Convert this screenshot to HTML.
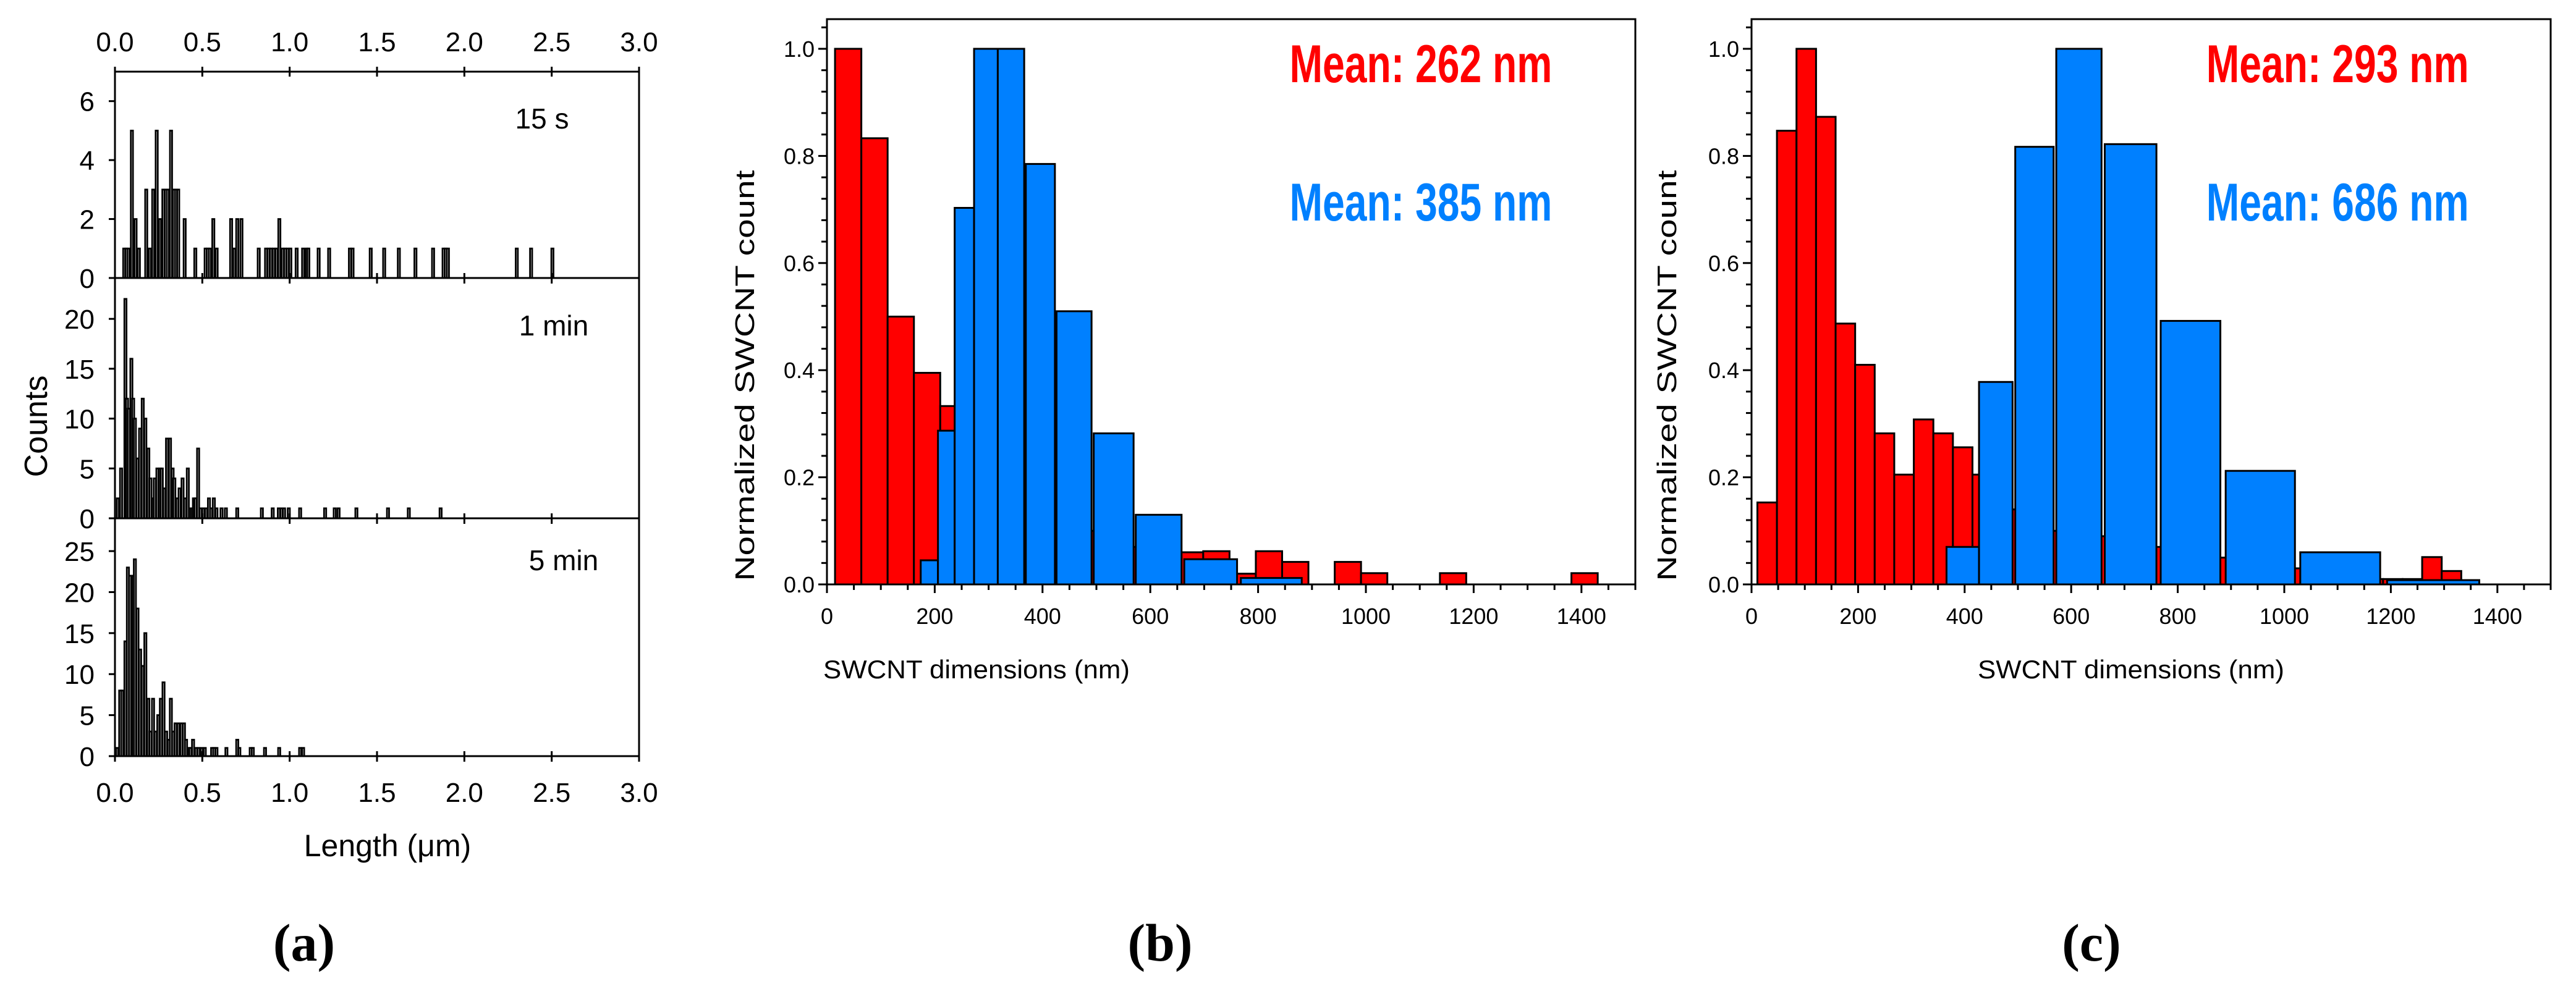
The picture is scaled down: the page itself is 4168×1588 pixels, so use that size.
<!DOCTYPE html>
<html><head><meta charset="utf-8"><style>html,body{margin:0;padding:0;background:#fff}svg{display:block}</style></head>
<body>
<svg id="fig" width="4168" height="1588" viewBox="0 0 4168 1588" xmlns="http://www.w3.org/2000/svg" font-family="'Liberation Sans', Arial, sans-serif"></svg>
<script>
// ---------- Panel (a) data ----------
const a15Len = [0.053,0.065,0.077,0.097,0.118,0.137,0.179,0.200,0.219,0.239,0.258,0.277,0.291,0.303,0.321,0.337,0.350,0.362,0.399,0.460,0.519,0.531,0.544,0.563,0.582,0.665,0.683,0.700,0.724,0.823,0.865,0.880,0.894,0.909,0.925,0.941,0.960,0.974,0.989,1.004,1.040,1.077,1.097,1.107,1.166,1.226,1.345,1.360,1.464,1.541,1.625,1.720,1.821,1.881,1.893,1.906,2.300,2.382,2.504];
const a15Cnt = [1,1,1,5,2,1,3,1,3,5,2,3,3,3,5,3,3,3,2,1,1,1,1,2,1,2,1,2,2,1,1,1,1,1,1,2,1,1,1,1,1,1,1,1,1,1,1,1,1,1,1,1,1,1,1,1,1,1,1];
const a1mLen = [0.017,0.035,0.060,0.069,0.079,0.094,0.104,0.114,0.129,0.144,0.159,0.174,0.191,0.203,0.218,0.228,0.243,0.258,0.268,0.283,0.298,0.315,0.330,0.340,0.357,0.370,0.387,0.402,0.417,0.432,0.442,0.452,0.462,0.476,0.491,0.506,0.521,0.538,0.551,0.566,0.581,0.610,0.635,0.700,0.841,0.903,0.938,0.953,0.968,0.995,1.060,1.203,1.258,1.280,1.382,1.563,1.682,1.864];
const a1mCnt = [2,5,22,12,11,16,12,10,6,9,12,10,7,4,2,4,5,5,5,3,8,8,5,4,2,3,4,2,5,1,1,2,2,7,1,1,1,2,1,2,1,1,1,1,1,1,1,1,1,1,1,1,1,1,1,1,1,1];
const a5mLen = [0.012,0.030,0.042,0.060,0.074,0.087,0.104,0.114,0.129,0.144,0.159,0.174,0.191,0.203,0.218,0.233,0.248,0.263,0.278,0.293,0.308,0.320,0.333,0.347,0.362,0.380,0.395,0.407,0.422,0.432,0.447,0.464,0.479,0.496,0.514,0.556,0.568,0.581,0.638,0.700,0.712,0.777,0.789,0.859,0.940,1.060,1.077];
const a5mCnt = [1,8,8,14,23,22,22,24,18,13,11,15,7,3,7,3,5,7,9,3,2,7,3,4,4,4,4,2,1,1,2,1,1,1,1,1,1,1,1,2,1,1,1,1,1,1,1];
const aXTicks = ["0.0","0.5","1.0","1.5","2.0","2.5","3.0"];
const a15YTicks = [0,2,4,6];
const a1mYTicks = [0,5,10,15,20];
const a5mYTicks = [0,5,10,15,20,25];
// ---------- Panel (b) data ----------
const bRedStart = 15, bRedWidth = 48.8;
const bRed = [1.0,0.833,0.5,0.395,0.333,0.25,0.2,0.15,0.12,0.1,0.08,0.07,0.06,0.06,0.062,0.02,0.062,0.042,0,0.042,0.021,0,0,0.021,0,0,0,0,0.021];
const bBlueL = [174,206,237,273,317,369,426,495,573,663,768];
const bBlueR = [206,237,273,317,366,423,491,569,658,761,881];
const bBlue = [0.045,0.287,0.703,1.0,1.0,0.785,0.51,0.282,0.13,0.047,0.012];
// ---------- Panel (c) data ----------
const cRedStart = 11, cRedWidth = 36.7;
const cRed = [0.153,0.847,1.0,0.873,0.487,0.41,0.282,0.205,0.308,0.282,0.256,0.205,0.17,0.14,0.12,0.1,0.1,0.09,0.08,0.08,0.07,0.06,0.05,0.05,0.05,0.05,0.04,0.03,0.03,0.02,0.02,0.01,0.01,0.01,0.051,0.025];
const cBlueL = [366,427,495,572,663,768,890,1030,1193];
const cBlueR = [427,490,567,657,760,880,1020,1180,1366];
const cBlue = [0.07,0.378,0.817,1.0,0.822,0.492,0.212,0.06,0.008];
const bcXTicks = [0,200,400,600,800,1000,1200,1400];
const bcYTicks = ["0.0","0.2","0.4","0.6","0.8","1.0"];

const svg = document.getElementById('fig');
const NS = 'http://www.w3.org/2000/svg';
function mk(tag, attrs, parent){const e=document.createElementNS(NS,tag);for(const k in attrs)e.setAttribute(k,attrs[k]);(parent||svg).appendChild(e);return e;}
function txt(s, attrs, parent){const e=mk('text',attrs,parent);e.textContent=s;return e;}

// ===== Panel (a) =====
const aL=186, aR=1034, aTop=116;
const ax = v => aL + (v/3.0)*(aR-aL);
const subs = [
 {top:116, bot:450, max:7, len:a15Len, cnt:a15Cnt, ticks:a15YTicks, name:'15s', label:'15 s', lx:877, ly:208},
 {top:450, bot:839, max:24.1, len:a1mLen, cnt:a1mCnt, ticks:a1mYTicks, name:'1min', label:'1 min', lx:896, ly:543},
 {top:839, bot:1224, max:29, len:a5mLen, cnt:a5mCnt, ticks:a5mYTicks, name:'5min', label:'5 min', lx:912, ly:923}
];
const ga = mk('g',{});


const bw = 0.012;
subs.forEach(sp=>{
  const ay = v => sp.bot - (v/sp.max)*(sp.bot-sp.top);
  const g = mk('g',{},ga);
  
  
  sp.len.forEach((x,i)=>{
    const r = mk('rect',{x:ax(x-bw/2), y:ay(sp.cnt[i]), width:ax(bw)-aL, height:sp.bot-ay(sp.cnt[i]), fill:'#fff', stroke:'#000','stroke-width':2.8},g);
    
    
  });
  mk('line',{x1:aL,y1:sp.bot,x2:aR,y2:sp.bot,stroke:'#000','stroke-width':3},ga);
  aXTicks.forEach((t,i)=>{ const x=ax(i*0.5); mk('line',{x1:x,y1:sp.bot-8,x2:x,y2:sp.bot+9,stroke:'#000','stroke-width':3},ga);});
  sp.ticks.forEach(t=>{
    const y=ay(t);
    mk('line',{x1:aL-10,y1:y,x2:aL,y2:y,stroke:'#000','stroke-width':3},ga);
    const tl=txt(String(t),{x:153,y:y+16,'font-size':44,'text-anchor':'end'},ga);
    
    
  });
  const lab=txt(sp.label,{x:sp.lx,y:sp.ly,'font-size':46,'text-anchor':'middle'},ga);
  
  
});
mk('line',{x1:aL,y1:aTop,x2:aR,y2:aTop,stroke:'#000','stroke-width':3},ga);
mk('line',{x1:aL,y1:aTop-8,x2:aL,y2:1224,stroke:'#000','stroke-width':3},ga);
mk('line',{x1:aR,y1:aTop-8,x2:aR,y2:1224,stroke:'#000','stroke-width':3},ga);
aXTicks.forEach((t,i)=>{
  const x=ax(i*0.5);
  mk('line',{x1:x,y1:aTop-8,x2:x,y2:aTop+8,stroke:'#000','stroke-width':3},ga);
  const t1=txt(t,{x:x,y:83,'font-size':44,'text-anchor':'middle'},ga);
  
  
  const t2=txt(t,{x:x,y:1298,'font-size':44,'text-anchor':'middle'},ga);
  
  
});
const axt=txt('Length (\u03bcm)',{x:627,y:1386,'font-size':50,'text-anchor':'middle'},ga);


const ayt=txt('Counts',{x:0,y:0,'font-size':52,'text-anchor':'middle',transform:'translate(76,690) rotate(-90)'},ga);



// ===== Panels (b),(c) =====
function drawBC(o){
  const g=mk('g',{});
  
  
  const y0=946, y1=79, top=31;
  const px = v => o.x0 + v*o.k;
  const py = v => y0 - v*(y0-y1);
  o.red.forEach((v,i)=>{
    if(v<=0) return;
    const l=o.rs+i*o.rw;
    const r=mk('rect',{x:px(l),y:py(v),width:o.rw*o.k,height:y0-py(v),fill:'#ff0000',stroke:'#000','stroke-width':3},g);
    
    
  });
  o.blue.forEach((v,i)=>{
    const r=mk('rect',{x:px(o.bl[i]),y:py(v),width:(o.br[i]-o.bl[i])*o.k,height:y0-py(v),fill:'#0080ff',stroke:'#000','stroke-width':3},g);
    
    
  });
  const R=px(1500);
  mk('rect',{x:o.x0,y:top,width:R-o.x0,height:y0-top,fill:'none',stroke:'#000','stroke-width':3},g);
  for(let v=0;v<=1.041;v+=0.04){
    const y=py(v); const major=Math.abs(v*5-Math.round(v*5))<1e-6;
    mk('line',{x1:o.x0-(major?14:9),y1:y,x2:o.x0,y2:y,stroke:'#000','stroke-width':3},g);
  }
  bcYTicks.forEach((t,i)=>{
    const tl=txt(t,{x:o.x0-20,y:py(i*0.2)+13,'font-size':36,'text-anchor':'end'},g);
    
    
  });
  for(let v=0;v<=1500;v+=50){
    const x=px(v); const major=v%200===0;
    mk('line',{x1:x,y1:y0,x2:x,y2:y0+(major?14:9),stroke:'#000','stroke-width':3},g);
  }
  bcXTicks.forEach(t=>{
    const tl=txt(String(t),{x:px(t),y:y0+64,'font-size':36,'text-anchor':'middle'},g);
    
    
  });
  const xt=txt('SWCNT dimensions (nm)',{x:o.xtx,y:1098,'font-size':42,'text-anchor':'middle',textLength:496,lengthAdjust:'spacingAndGlyphs'},g);
  
  
  const yt=txt('Normalized SWCNT count',{x:0,y:0,'font-size':44,'text-anchor':'middle',textLength:665,lengthAdjust:'spacingAndGlyphs',transform:'translate('+o.ytx+',608) rotate(-90)'},g);
  
  
  const mx = px(o.mnm);
  const m1=txt(o.m1,{x:mx,y:133,'font-size':86,'font-weight':'bold',fill:'#ff0000','text-anchor':'middle',textLength:425,lengthAdjust:'spacingAndGlyphs'},g);
  
  
  const m2=txt(o.m2,{x:mx,y:357,'font-size':86,'font-weight':'bold',fill:'#0080ff','text-anchor':'middle',textLength:425,lengthAdjust:'spacingAndGlyphs'},g);
  
  
}
drawBC({id:'b',x0:1338,k:0.872,red:bRed,rs:bRedStart,rw:bRedWidth,blue:bBlue,bl:bBlueL,br:bBlueR,xtx:1580,ytx:1220,mnm:1102,m1:'Mean: 262 nm',m2:'Mean: 385 nm'});
drawBC({id:'c',x0:2834,k:0.862,red:cRed,rs:cRedStart,rw:cRedWidth,blue:cBlue,bl:cBlueL,br:cBlueR,xtx:3448,ytx:2712,mnm:1100,m1:'Mean: 293 nm',m2:'Mean: 686 nm'});

[['(a)',492],['(b)',1877],['(c)',3384]].forEach(p=>{
  const t=txt(p[0],{x:p[1],y:1555,'font-size':86,'font-weight':'bold','font-family':"'Liberation Serif', serif",'text-anchor':'middle'});
  
  
});
</script>
</body></html>
